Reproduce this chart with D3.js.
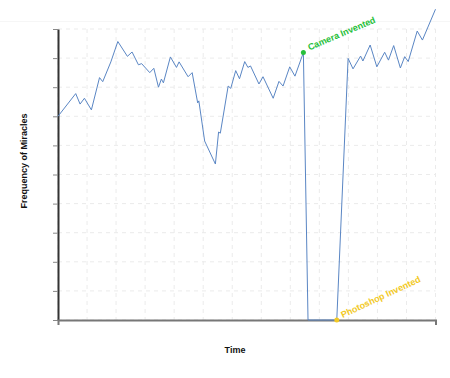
<!DOCTYPE html>
<html>
<head>
<meta charset="utf-8">
<script src="https://cdn.jsdelivr.net/npm/d3@7"></script>
<style>
  body { margin: 0; background: #fff; }
  .grid line { stroke: #ebebeb; stroke-dasharray: 4,4; }
  .axis-title { font-family: "Liberation Sans", Arial, sans-serif; font-weight: bold; font-size: 9px; fill: #111; }
</style>
</head>
<body>
<svg id="chart" width="450" height="378"></svg>
<script>
// time on x, frequency on y
var times = [0, 6.1, 7.6, 9.1, 11.5, 14.3, 15.4, 18.2, 20.6, 23.9, 25.5, 27.7, 28.8, 31.6, 33.0, 34.6,
    35.6, 36.3, 38.7, 40.8, 41.7, 44.8, 46.2, 48.1, 48.5, 50.5, 54.2, 55.3, 55.9, 57.4, 58.6, 59.5,
    61.2, 62.5, 64.3, 65.4, 66.3, 69.2, 70.6, 74.1, 76.1, 77.5, 79.8, 81.6, 84.5, 86.1, 96.0, 99.9,
    101.6, 104.2, 105.0, 107.5, 109.8, 112.5, 113.8, 115.6, 117.9, 119.4, 120.6, 123.7, 125.5, 130];
var miracles = [70.0, 77.8, 74.2, 76.2, 72.2, 83.3, 81.9, 88.7, 95.7, 90.6, 92.1, 87.7, 88.1, 85.0, 86.5, 80.0,
    82.8, 81.5, 90.4, 86.8, 88.7, 83.6, 85.0, 74.6, 75.3, 61.5, 53.6, 64.6, 64.2, 73.2, 80.4, 79.6,
    85.7, 82.9, 88.8, 86.8, 87.3, 81.1, 83.6, 76.2, 82.0, 80.4, 87.0, 83.8, 91.9, 0, 0, 89.9,
    86.3, 90.7, 89.0, 94.5, 87.0, 92.0, 89.3, 94.3, 86.6, 90.5, 88.8, 99.3, 96.2, 106.8];

var eventNames = ["Camera Invented", "Photoshop Invented"];
var eventTimes = [84.5, 96.0];
var eventValues = [91.9, 0];
var eventColors = ["#27c03a", "#f2c925"];
var eventAngles = [-23, -25];

var xTicks = d3.range(0, 131, 10);
var yTicks = d3.range(0, 101, 10);

var margin = {top: 29, left: 58};
var width = 377.5, height = 291;

var svg = d3.select("#chart");

// faint line near the top
svg.append("line")
    .attr("x1", 0).attr("x2", 450).attr("y1", 21.5).attr("y2", 21.5)
    .style("stroke", "#f6f6f6");

var g = svg.append("g").attr("transform", "translate(" + margin.left + "," + margin.top + ")");

var x = d3.scaleLinear().domain([0, 130]).range([0, width]);
var y = d3.scaleLinear().domain([0, 100]).range([height, 0]);

// gridlines
g.append("g").attr("class", "grid")
    .selectAll("line").data(xTicks).enter().append("line")
    .attr("x1", d => x(d)).attr("x2", d => x(d))
    .attr("y1", 0).attr("y2", height);

g.append("g").attr("class", "grid")
    .selectAll("line").data(yTicks).enter().append("line")
    .attr("x1", 0).attr("x2", width)
    .attr("y1", d => y(d)).attr("y2", d => y(d));

// axes
var yAxis = g.append("g")
    .call(d3.axisLeft(y).tickValues(yTicks).tickSize(5).tickSizeOuter(0).tickFormat(""));
yAxis.select(".domain").style("stroke", "#333").style("stroke-width", 2);
yAxis.selectAll(".tick line").style("stroke", "#888");

var xAxis = g.append("g")
    .attr("transform", "translate(0," + height + ")")
    .call(d3.axisBottom(x).tickValues([]).tickSizeOuter(5));
xAxis.select(".domain").style("stroke", "#777").style("stroke-width", 2);

// line
var line = d3.line()
    .x((d, i) => x(times[i]))
    .y(d => y(d));

g.append("path")
    .datum(miracles)
    .attr("d", line)
    .style("fill", "none")
    .style("stroke", "#5a86c4")
    .style("stroke-width", 1);

// events
eventNames.forEach(function (name, i) {
    var cx = x(eventTimes[i]), cy = y(eventValues[i]);
    g.append("circle")
        .attr("cx", cx).attr("cy", cy).attr("r", 2.5)
        .style("fill", eventColors[i]);
    g.append("text")
        .attr("transform", "translate(" + (cx + 6) + "," + (cy - 2) + ") rotate(" + eventAngles[i] + ")")
        .attr("class", "axis-title")
        .style("fill", eventColors[i])
        .text(name);
});

// axis titles
svg.append("text")
    .attr("class", "axis-title")
    .attr("text-anchor", "middle")
    .attr("x", 235).attr("y", 353)
    .text("Time");

svg.append("text")
    .attr("class", "axis-title")
    .attr("text-anchor", "middle")
    .attr("transform", "translate(27,161) rotate(-90)")
    .text("Frequency of Miracles");
</script>
</body>
</html>
